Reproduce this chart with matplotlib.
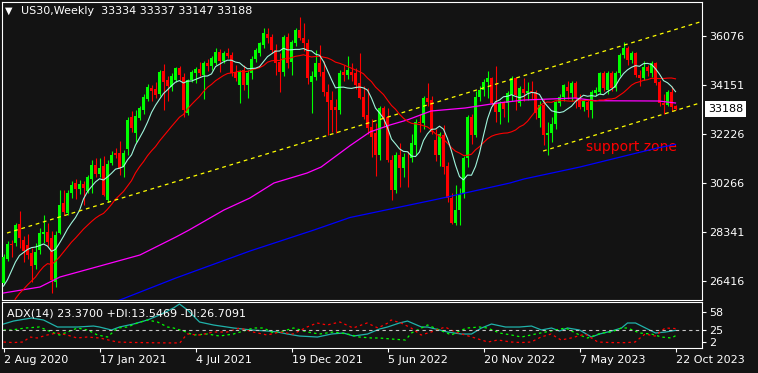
import matplotlib.pyplot as plt
import numpy as np
import pandas as pd
from matplotlib.transforms import blended_transform_factory

# weekly US30 candles, 2 Aug 2020 .. 22 Oct 2023
opens = [26340, 27283, 27870, 27914, 28663, 28032, 27835, 27520, 27047, 27638,
         28268, 28347, 28111, 26376, 28308, 29491, 29097, 29885, 30280, 30043,
         30240, 29964, 30437, 30989, 30634, 30950, 29609, 31068, 31463, 31463,
         30910, 31620, 32882, 32252, 32843, 33158, 33592, 34026, 33986, 33789,
         34696, 34341, 34065, 34341, 34800, 34472, 33040, 34341, 34617, 34774,
         34538, 35011, 34880, 35011, 35445, 35100, 35420, 35327, 34656, 34144,
         34735, 34144, 34617, 35169, 35406, 35721, 36155, 36037, 35524, 35051,
         34656, 36037, 35051, 35800, 36312, 35997, 35800, 34262, 34459, 35011,
         34656, 33868, 33552, 33276, 33158, 34656, 34538, 34670, 34617, 34223,
         33671, 32961, 32488, 32252, 31384, 33237, 32882, 31187, 29998, 31384,
         30871, 31305, 31266, 31778, 32685, 32646, 33631, 33552, 31975, 31384,
         32172, 30950, 29688, 28702, 29215, 29846, 31266, 32882, 32172, 33671,
         33950, 34262, 34420, 33434, 33079, 33434, 33434, 33750, 34420, 33434,
         33986, 33828, 33900, 33868, 32843, 33355, 32172, 32252, 32606, 33422,
         33683, 34050, 33828, 34211, 33650, 33289, 33486, 33158, 33815, 33880,
         34630, 33946, 34630, 34013, 34617, 35327, 35603, 35130, 35406, 34538,
         34420, 34853, 34617, 35011, 34262, 33434, 33355, 33868, 33334]
highs = [27480, 28000, 28030, 28700, 29176, 28200, 28250, 27700, 27900, 28500,
         29019, 28700, 28400, 28400, 30004, 30004, 30000, 30350, 30450, 30400,
         30350, 30600, 31200, 31250, 31250, 31350, 31200, 31550, 31650, 31936,
         31600, 32900, 33119, 33150, 33300, 33800, 34200, 34144, 34250, 34750,
         34972, 34500, 34600, 34850, 34900, 34600, 34400, 34750, 34850, 35050,
         35100, 35150, 35300, 35600, 35550, 35500, 35600, 35450, 34950, 34750,
         34950, 34750, 35300, 35600, 35850, 36391, 36391, 36150, 35750, 35400,
         36100, 36200, 35900, 36400, 36825, 36580, 35950, 34700, 35524, 35721,
         35100, 34200, 33900, 33600, 34750, 34950, 35300, 35011, 34800, 35406,
         34100, 34026, 32800, 32650, 33300, 33300, 33250, 31400, 31500, 31857,
         31450, 31550, 32200, 32800, 33000, 33700, 34223, 33700, 32400, 32300,
         32550, 31100, 29900, 30200, 30100, 31350, 32950, 33000, 33900, 34100,
         34400, 34700, 34450, 34900, 33500, 33500, 33900, 34500, 34450, 34100,
         34420, 34250, 34300, 33950, 33500, 33600, 32700, 32900, 33500, 33800,
         34200, 34300, 34300, 34300, 33800, 33600, 33550, 33950, 34050, 34650,
         34700, 34700, 34700, 34700, 35400, 35840, 35700, 35500, 35450, 34750,
         35100, 34950, 35100, 35050, 34350, 33800, 33950, 34100, 33337]
lows = [26300, 27200, 27360, 27800, 27700, 27165, 27300, 26376, 26900, 27500,
        27900, 27800, 25943, 26179, 28250, 29000, 29000, 29700, 29650, 29850,
        29412, 29900, 29900, 30500, 30500, 29750, 29550, 31000, 31250, 30600,
        30516, 31400, 32300, 31896, 32750, 33000, 33500, 33513, 33650, 33700,
        33158, 33500, 33900, 34250, 34350, 32882, 32950, 34250, 34223, 34500,
        33592, 34700, 34750, 34950, 34650, 35000, 35200, 34500, 34300, 33434,
        33950, 33631, 34400, 35050, 35300, 35600, 35800, 35400, 34538, 33868,
        34500, 34800, 34538, 35700, 35900, 35500, 34200, 33040, 34350, 34500,
        33700, 32172, 32300, 32252, 33000, 34300, 34400, 34300, 34000, 33600,
        32800, 32200, 31300, 30556, 31200, 32500, 31100, 29609, 29900, 30122,
        30500, 30122, 31100, 31400, 32300, 32400, 33300, 32200, 31150, 30950,
        30650, 29550, 28650, 28624, 28624, 29700, 30900, 31800, 32100, 33500,
        33700, 33650, 33300, 32700, 32600, 32900, 32700, 33500, 33150, 33300,
        33500, 33550, 33600, 32800, 32500, 31778, 31384, 31900, 32400, 33300,
        33500, 33600, 33500, 33250, 33200, 33100, 32900, 32850, 33700, 33800,
        33900, 33800, 33900, 33900, 34500, 35200, 34950, 35000, 34450, 34100,
        34350, 34500, 34450, 34150, 33300, 33000, 33300, 33100, 33147]
closes = [27360, 27875, 27835, 28624, 28110, 27598, 27441, 27008, 27559, 28308,
          28347, 27970, 26455, 28229, 29412, 29136, 29885, 30201, 30043, 30240,
          30083, 30516, 30989, 30634, 30871, 29806, 31029, 31384, 31384, 30832,
          31463, 32764, 32449, 32922, 33237, 33671, 34065, 33907, 33750, 34656,
          34262, 34104, 34499, 34814, 34550, 33158, 34341, 34670, 34774, 34620,
          35011, 34880, 35200, 35445, 35100, 35420, 35300, 34617, 34420, 34656,
          34144, 34617, 35169, 35524, 35800, 36194, 35997, 35524, 35011, 34656,
          36037, 35011, 35840, 36312, 35997, 35800, 34420, 34499, 35011, 34656,
          33868, 33474, 33158, 33158, 34617, 34538, 34735, 34538, 34144, 33631,
          32882, 32449, 32094, 31384, 33237, 32843, 31187, 29998, 31384, 30871,
          31305, 31290, 31857, 32685, 32640, 33631, 33474, 32291, 31384, 32212,
          30910, 29688, 28720, 29215, 29846, 31266, 32882, 32172, 33671, 33950,
          34262, 34420, 33434, 33079, 33434, 33197, 33828, 34420, 33750, 34026,
          33828, 33900, 33868, 33040, 33355, 32172, 32252, 32606, 33486, 33683,
          34144, 33900, 34223, 33650, 33289, 33552, 33158, 33880, 33946, 34605,
          34013, 34630, 34013, 34617, 35327, 35603, 35130, 35406, 34538, 34420,
          34853, 34696, 35011, 34223, 33434, 33355, 33868, 33276, 33188]

# closes of the 20 weeks before the first bar (needed for the moving averages)
closes_before = [19174, 21637, 21053, 23720, 24242, 23775, 23724, 24331, 23685, 24465,
                 25383, 27111, 25606, 25871, 25016, 25827, 26075, 26672, 26470, 26428]

# slow moving averages (bar index, price)
ma100_idx = [0, 9.1, 14.1, 24.1, 34.1, 43.1, 46.4, 55.1, 61.6, 67.6, 75.9, 79.4,
             86.6, 91.6, 96.6, 100.9, 106.9, 115.4, 123.6, 130.1, 142.9, 147.9, 163.9, 168]
ma100_val = [25943, 26179, 26573, 27007, 27441, 28150, 28427, 29215, 29688, 30280, 30674, 30910,
             31750, 32291, 32567, 32764, 33119, 33237, 33434, 33552, 33631, 33525, 33513, 33434]
ma200_idx = [0, 29.1, 43.1, 61.6, 77.6, 86.6, 108.4, 126.6, 130.1, 144.1, 163.4, 168]
ma200_val = [23853, 25667, 26534, 27598, 28426, 28919, 29640, 30280, 30438, 30910, 31660, 31800]

# channel trendlines (bar index, price)
chan_top_idx = [0.875, 174.1]
chan_top_val = [28308, 36628]
chan_low_idx = [134.9, 174.1]
chan_low_val = [31541, 33434]

# ADX(14) panel
adx_idx = [0, 2.5, 7, 10, 12, 13.5, 18.5, 22.5, 24, 27, 29, 32.5, 36, 39, 42.5, 44, 46, 49,
           52.5, 57.5, 62, 66, 68.5, 71, 74, 78.5, 82, 85, 87.5, 91, 94, 96, 99, 101, 104.5,
           106, 109, 111, 114.5, 117, 119.5, 122, 125.5, 129, 132, 134.5, 137, 139, 141, 144,
           147, 149, 152, 154.5, 156, 158, 160.5, 163, 165.5, 168]
adx_val = [35.1, 40.6, 46.2, 42.5, 35.1, 29.6, 29.6, 31.4, 29.6, 24.1, 29.6, 35.1, 42.5, 51.7,
           64.6, 71.9, 60.9, 38.8, 33.3, 27.8, 24.1, 22.2, 20.4, 16.7, 13.0, 11.2, 16.7, 18.6,
           13.0, 16.7, 25.9, 29.6, 37.0, 40.6, 29.6, 29.6, 24.1, 20.4, 16.7, 16.7, 27.8, 35.1,
           29.6, 29.6, 31.4, 24.1, 27.8, 22.2, 27.8, 24.1, 11.2, 16.7, 22.2, 27.8, 37.0, 37.0,
           27.8, 18.6, 20.4, 23.37]
pdi_idx = [0, 2, 5.5, 9, 12, 14, 16, 18.5, 21, 23.5, 26, 28.5, 31, 33.5, 36, 38.5, 41, 42.5,
           45, 47.5, 51, 54, 57.5, 62.5, 65, 67.5, 70, 72.5, 76, 79, 82.5, 86, 89, 92, 94, 97,
           100.5, 102, 104.5, 106, 109, 112, 114.5, 116, 119, 121, 124, 127, 129.5, 133, 135.5,
           138, 140.5, 144, 146, 149.5, 152, 154.5, 156, 159, 162, 164.5, 167, 168]
pdi_val = [24.1, 24.1, 27.8, 29.6, 20.4, 14.9, 20.4, 27.8, 24.1, 14.9, 11.2, 27.8, 29.6, 37.0,
           42.5, 38.8, 29.6, 27.8, 22.2, 14.9, 16.7, 13.0, 16.7, 27.8, 27.8, 18.6, 22.2, 27.8,
           20.4, 16.7, 20.4, 16.7, 11.2, 9.4, 9.4, 7.5, 5.7, 18.6, 27.8, 33.3, 24.1, 14.9, 24.1,
           27.8, 29.6, 27.8, 18.6, 14.9, 11.2, 16.7, 20.4, 24.1, 27.8, 14.9, 9.4, 18.6, 20.4,
           27.8, 27.8, 18.6, 16.7, 11.2, 9.4, 13.55]
mdi_idx = [0, 2.4, 4.9, 6.6, 8.4, 10.9, 13.4, 15.9, 18.4, 20.9, 24.1, 28.4, 32.4, 35.9, 39.1,
           42.4, 44.1, 45.9, 49.1, 52.4, 55.9, 59.1, 62.4, 65.9, 69.1, 72.4, 75.9, 78.4, 80.9,
           84.1, 87.4, 90.9, 93.6, 96.1, 96.9, 99.4, 101.9, 104.4, 106.9, 110.4, 112.9, 115.4,
           117.9, 121.1, 123.6, 126.9, 129.4, 131.9, 134.4, 136.9, 139.4, 141.9, 145.4, 148.6,
           151.9, 155.4, 157.9, 160.4, 162.9, 165.4, 168]
mdi_val = [2.0, 1.0, 2.0, 11.2, 9.4, 14.9, 18.6, 14.9, 9.4, 11.2, 9.4, 2.0, 1.2, 0.8, 0.5,
           0.3, 0.5, 16.7, 14.9, 20.4, 20.4, 27.8, 20.4, 14.9, 20.4, 16.7, 29.6, 37.0, 33.3,
           38.8, 27.8, 37.0, 27.8, 37.0, 42.5, 37.0, 27.8, 14.9, 20.4, 29.6, 20.4, 14.9,
           9.4, 2.0, 5.7, 2.0, 1.0, 2.0, 11.2, 16.7, 5.7, 9.4, 16.7, 2.0,
           1.0, 0.8, 2.0, 16.7, 13.0, 27.8, 26.71]

price_ticks = [26416, 28341, 30266, 32226, 34151, 36076]
adx_ticks = [2, 25, 58]
date_pos = [0, 24, 48, 72, 96, 120, 144, 168]
date_labels = ['2 Aug 2020', '17 Jan 2021', '4 Jul 2021', '19 Dec 2021',
               '5 Jun 2022', '20 Nov 2022', '7 May 2023', '22 Oct 2023']

bg = '#131313'
W, H = 758, 373
fig = plt.figure(figsize=(W / 100, H / 100), dpi=100, facecolor=bg)
ax = fig.add_axes([2 / W, 1 - 300 / H, 700 / W, 298 / H], facecolor=bg)
ax2 = fig.add_axes([2 / W, 1 - 348 / H, 700 / W, 46 / H], facecolor=bg)

x = np.arange(len(closes))
o = np.array(opens)
c = np.array(closes)
cols = np.where(c >= o, '#00ff00', '#ff0000')
ax.vlines(x, lows, highs, colors=cols, lw=0.8, zorder=2)
ax.bar(x, np.maximum(np.abs(c - o), 30), bottom=np.minimum(o, c), width=0.72,
       color=cols, linewidth=0, zorder=3)

s = pd.Series(closes_before + closes, dtype=float)
ma8 = s.rolling(8).mean().values[len(closes_before):]
ma21 = s.rolling(21).mean().values[len(closes_before):]

ax.plot(ma200_idx, ma200_val, color='#0000ff', lw=0.9, zorder=4)
ax.plot(ma100_idx, ma100_val, color='#ff00ff', lw=0.9, zorder=4)
ax.plot(x, ma21, color='#ff0000', lw=0.8, zorder=4)
ax.plot(x, ma8, color='#9ff5dc', lw=0.8, zorder=4)
ax.plot(chan_top_idx, chan_top_val, color='#ffff00', lw=0.9, dashes=(3, 3), zorder=4)
ax.plot(chan_low_idx, chan_low_val, color='#ffff00', lw=0.9, dashes=(3, 3), zorder=4)

ax.text(145.6, 31699, 'support zone', color='#ff0000', fontsize=10, ha='left', va='center')

ax.set_xlim(-0.375, 174.625)
ax.set_ylim(25667, 37417)
ax.set_xticks([])
ax.yaxis.tick_right()
ax.set_yticks(price_ticks, labels=[str(p) for p in price_ticks])
ax.tick_params(axis='y', colors='white', length=3, width=0.8, pad=2, labelsize=8)

tr = blended_transform_factory(ax.transAxes, ax.transData)
ax.text(1 + 6 / 700, closes[-1], str(closes[-1]), transform=tr, ha='left', va='center',
        color='black', fontsize=8,
        bbox=dict(boxstyle='square,pad=0.25', fc='white', ec='none'))

ax2.plot(adx_idx, adx_val, color='#20b2aa', lw=0.9)
ax2.plot(pdi_idx, pdi_val, color='#00ff00', lw=0.9, dashes=(2, 2.5))
ax2.plot(mdi_idx, mdi_val, color='#ff0000', lw=0.9, dashes=(2, 2.5))
ax2.axhline(25, color='#c8c8c8', lw=0.8, dashes=(3, 3))
ax2.set_xlim(-0.375, 174.625)
ax2.set_ylim(-9, 75.6)
ax2.yaxis.tick_right()
ax2.set_yticks(adx_ticks, labels=[str(v) for v in adx_ticks])
ax2.set_xticks(date_pos, labels=date_labels)
for lbl in ax2.get_xticklabels():
    lbl.set_ha('left')
ax2.tick_params(colors='white', length=3, width=0.8, pad=2, labelsize=8)

for a in (ax, ax2):
    for sp in a.spines.values():
        sp.set_color('white')
        sp.set_linewidth(0.8)

fig.text(5 / W, 1 - 11 / H, '\u25bc', color='white', fontsize=7, va='center')
fig.text(21 / W, 1 - 11 / H, 'US30,Weekly  33334 33337 33147 33188', color='white',
         fontsize=8, va='center')
fig.text(7 / W, 1 - 313 / H, 'ADX(14) 23.3700 +DI:13.5469 -DI:26.7091', color='white',
         fontsize=8, va='center')

fig.savefig('out.png', dpi=100, facecolor=bg)
